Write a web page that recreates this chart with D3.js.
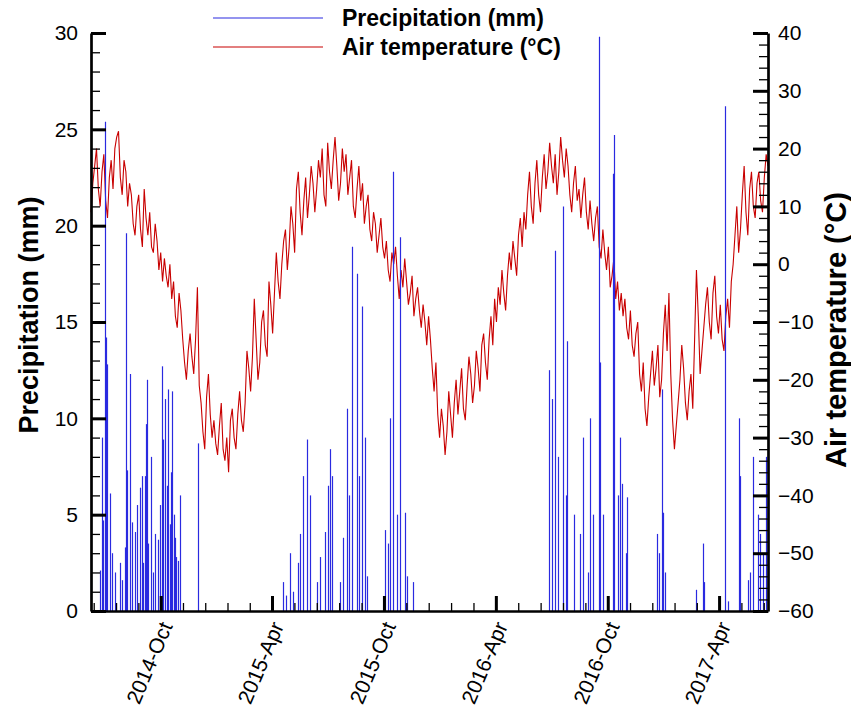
<!DOCTYPE html>
<html>
<head>
<meta charset="utf-8">
<script src="https://cdn.jsdelivr.net/npm/d3@7"></script>
<style>
  html, body { margin: 0; padding: 0; background: #fff; }
  svg { display: block; font-family: "Liberation Sans", Arial, sans-serif; }
</style>
</head>
<body>
<svg id="chart" width="851" height="721"></svg>
<script>
// ---- data -------------------------------------------------------------
const seriesStart = "2014-06-09";
const seriesEnd = "2017-06-20";
const tempStepDays = 3; // one air-temperature reading every 3 days from seriesStart

// Air temperature (°C)
const tempValues = [
  9,14,17,20,13,10,16,19,11,8,
  15,18,13,20,22,23,15,12,18,16,
  10,14,12,7,5,10,12,6,3,13,
  8,5,9,3,2,7,4,-1,2,-3,
  1,-2,-4,0,-6,-3,-9,-11,-5,-8,
  -13,-17,-20,-15,-12,-16,-19,-13,-4,-21,
  -24,-29,-32,-23,-19,-26,-30,-27,-31,-33,
  -28,-24,-32,-34,-30,-36,-27,-25,-30,-32,
  -26,-22,-27,-29,-24,-15,-18,-22,-16,-6,
  -13,-20,-17,-10,-8,-14,-16,-3,-7,-12,
  -5,2,-3,-6,0,4,6,-1,3,10,
  7,2,13,16,9,5,11,15,8,12,
  17,14,9,13,18,15,20,12,10,21,
  16,13,18,22,17,11,14,20,16,19,
  12,15,18,10,8,13,17,11,14,7,
  10,12,6,4,9,7,2,5,8,3,
  1,4,-1,-3,2,0,3,-2,-6,-1,
  -4,1,-3,-7,-5,-2,-9,-6,-4,-8,
  -11,-7,-10,-14,-9,-13,-18,-22,-17,-26,
  -30,-25,-28,-33,-29,-22,-26,-30,-24,-20,
  -26,-22,-18,-25,-27,-21,-16,-19,-24,-21,
  -15,-18,-22,-14,-12,-17,-20,-13,-9,-14,
  -6,-10,-4,-7,-1,-5,-8,-2,2,-1,
  4,1,-2,5,8,3,9,6,12,16,
  10,7,14,18,12,9,15,19,13,16,
  21,17,14,19,12,16,22,18,15,20,
  17,12,9,14,17,11,13,8,12,15,
  9,6,11,7,4,8,10,3,1,6,
  2,-1,3,-4,-2,1,-6,-3,-8,-5,
  -9,-6,-11,-13,-8,-14,-16,-12,-10,-19,
  -22,-17,-25,-28,-23,-19,-15,-21,-18,-14,
  -23,-20,-12,-7,-15,-5,-19,-27,-32,-28,
  -24,-20,-14,-18,-24,-27,-22,-19,-25,-13,
  -1,-9,-19,-15,-11,-7,-4,-10,-13,-5,
  -2,-9,-12,-7,-13,-15,-9,-6,-11,-3,
  0,5,10,2,6,12,17,9,5,13,
  16,10,8,14,16,11,9,15,19,17
];

// Precipitation events: day number counted from seriesStart, and amount (mm)
const precipDay = [
  15,18,20,23,25,26,31,34,39,47,51,56,57,59,64,67,72,75,80,83,85,88,90,92,93,98,101,105,110,113,
  116,118,121,124,126,129,131,133,136,137,139,142,146,175,
  314,319,326,330,339,342,347,353,358,370,375,383,388,391,394,407,412,419,422,427,435,439,443,448,452,
  481,486,489,494,501,506,514,517,527,
  749,754,759,764,771,776,779,789,800,805,812,816,821,830,833,838,854,856,861,865,869,874,877,
  926,929,933,936,939,990,1000,1003,1036,1041,1059,1062,1075,1078,1083,1090,1094,1099,1104
];
const precipMm = [
  2.1,9.0,4.7,25.4,14.2,12.8,6.1,3.0,2.0,2.5,1.6,3.3,19.6,7.3,12.3,4.6,4.1,5.5,6.4,7.0,2.5,7.0,9.7,12.0,3.5,8.0,2.0,4.0,3.7,5.5,
  12.7,8.9,11.0,6.5,11.5,4.5,7.2,11.4,5.0,3.8,2.8,2.6,6.0,8.7,
  1.5,0.8,3.0,1.0,2.5,4.0,7.0,8.9,6.0,1.5,2.8,4.1,6.5,8.4,7.0,1.5,3.8,10.5,6.0,18.9,17.5,7.0,15.8,9.0,1.8,
  4.2,3.5,10.0,22.8,5.0,19.4,5.1,1.8,1.5,
  12.5,11.0,18.7,8.0,21.0,6.0,14.0,5.0,4.0,9.0,2.0,10.0,5.0,29.8,12.9,5.0,22.7,24.7,6.0,9.0,6.6,3.0,5.9,
  4.0,3.0,11.5,5.1,2.0,1.1,3.5,1.5,26.2,0.5,10.0,7.0,1.6,2.0,8.0,5.0,4.0,3.0,8.0
];

// Axis ticks
const xMajorTicks = ["2014-10-01","2015-04-01","2015-10-01","2016-04-01","2016-10-01","2017-04-01"];
const precipTicks = [0,5,10,15,20,25,30];
const tempTicks = [-60,-50,-40,-30,-20,-10,0,10,20,30,40];

// ---- layout -----------------------------------------------------------
const svg = d3.select("#chart");
const plot = { left: 91, right: 768, top: 33, bottom: 611 };
const parse = d3.utcParse("%Y-%m-%d");
const dayMs = 864e5;
const t0 = parse(seriesStart);

const x = d3.scaleUtc().domain([t0, parse(seriesEnd)]).range([plot.left, plot.right]);
const yP = d3.scaleLinear().domain([0, 30]).range([plot.bottom, plot.top]);
const yT = d3.scaleLinear().domain([-60, 40]).range([plot.bottom, plot.top]);

const tempData = tempValues.map((v, i) => ({ date: new Date(+t0 + i * tempStepDays * dayMs), value: v }));
const precipData = precipDay.map((d, i) => ({ date: new Date(+t0 + d * dayMs), value: precipMm[i] }));

// air temperature line
svg.append("path")
  .datum(tempData)
  .attr("fill", "none")
  .attr("stroke", "#c80000")
  .attr("stroke-width", 1.1)
  .attr("stroke-linejoin", "miter")
  .attr("d", d3.line().x(d => x(d.date)).y(d => yT(d.value)));

// precipitation drawn as thin vertical bars
svg.append("g")
  .selectAll("line")
  .data(precipData)
  .join("line")
  .attr("x1", d => Math.round(x(d.date)) + 0.5)
  .attr("x2", d => Math.round(x(d.date)) + 0.5)
  .attr("y1", yP(0))
  .attr("y2", d => yP(d.value))
  .attr("stroke", "#2a2ae0")
  .attr("stroke-width", 1.2);

// ---- axes -------------------------------------------------------------
const majorDates = xMajorTicks.map(parse);
const minorDates = [];
for (let k = 0; k < majorDates.length - 1; k++) {
  const a = +majorDates[k], b = +majorDates[k + 1];
  for (let j = 1; j < 5; j++) minorDates.push(new Date(a + (b - a) * j / 5));
}
const minorStep = (+majorDates[majorDates.length - 1] - +majorDates[0]) / ((majorDates.length - 1) * 5);
for (let t = +majorDates[0] - minorStep; t >= +x.domain()[0]; t -= minorStep) minorDates.push(new Date(t));
for (let t = +majorDates[majorDates.length - 1] + minorStep; t <= +x.domain()[1]; t += minorStep) minorDates.push(new Date(t));

function styleAxis(g, width) {
  g.select(".domain").attr("stroke", "#000").attr("stroke-width", 2.7);
  g.selectAll(".tick line").attr("stroke", "#000").attr("stroke-width", width);
  g.selectAll("text").attr("fill", "#000");
}

// bottom axis
const xMinor = svg.append("g").attr("transform", `translate(0,${plot.bottom})`)
  .call(d3.axisBottom(x).tickValues(minorDates).tickSize(-8).tickSizeOuter(0).tickFormat(""));
xMinor.select(".domain").remove();
xMinor.selectAll(".tick line").attr("stroke", "#000").attr("stroke-width", 1.3);

const xAxis = svg.append("g").attr("transform", `translate(0,${plot.bottom})`)
  .call(d3.axisBottom(x).tickValues(majorDates).tickSize(-15).tickSizeOuter(0)
    .tickFormat(d3.utcFormat("%Y-%b")));
styleAxis(xAxis, 3);
xAxis.selectAll("text")
  .attr("font-size", 21)
  .attr("text-anchor", "end")
  .attr("x", 0).attr("y", 0).attr("dy", "0.35em")
  .attr("transform", "translate(5,12) rotate(-67)");

// left axis (precipitation)
const pMinorTicks = d3.range(0, 31, 1).filter(v => v % 5 !== 0);
const pMinor = svg.append("g").attr("transform", `translate(${plot.left},0)`)
  .call(d3.axisLeft(yP).tickValues(pMinorTicks).tickSize(-9).tickSizeOuter(0).tickFormat(""));
pMinor.select(".domain").remove();
pMinor.selectAll(".tick line").attr("stroke", "#000").attr("stroke-width", 1.3);

const pAxis = svg.append("g").attr("transform", `translate(${plot.left},0)`)
  .call(d3.axisLeft(yP).tickValues(precipTicks).tickSize(-15).tickSizeOuter(0).tickPadding(13));
styleAxis(pAxis, 3);
pAxis.selectAll("text").attr("font-size", 21);

// right axis (temperature)
const tMinorTicks = d3.range(-60, 41, 2).filter(v => v % 10 !== 0);
const tMinor = svg.append("g").attr("transform", `translate(${plot.right},0)`)
  .call(d3.axisRight(yT).tickValues(tMinorTicks).tickSize(-9).tickSizeOuter(0).tickFormat(""));
tMinor.select(".domain").remove();
tMinor.selectAll(".tick line").attr("stroke", "#000").attr("stroke-width", 1.3);

const tAxis = svg.append("g").attr("transform", `translate(${plot.right},0)`)
  .call(d3.axisRight(yT).tickValues(tempTicks).tickSize(-15).tickSizeOuter(0).tickPadding(10));
styleAxis(tAxis, 3);
tAxis.selectAll("text").attr("font-size", 21);

// axis titles
svg.append("text")
  .attr("transform", "translate(38,315) rotate(-90)")
  .attr("text-anchor", "middle")
  .attr("font-size", 27).attr("font-weight", "bold")
  .text("Precipitation (mm)");

svg.append("text")
  .attr("transform", "translate(846,330) rotate(-90)")
  .attr("text-anchor", "middle")
  .attr("font-size", 29).attr("font-weight", "bold")
  .text("Air temperature (°C)");

// legend
const legend = [
  { label: "Precipitation (mm)", color: "#2a2ae0", y: 18 },
  { label: "Air temperature (°C)", color: "#c80000", y: 47 }
];
const lg = svg.append("g");
lg.selectAll("line").data(legend).join("line")
  .attr("x1", 213).attr("x2", 323)
  .attr("y1", d => d.y).attr("y2", d => d.y)
  .attr("stroke", d => d.color).attr("stroke-width", 1.2);
lg.selectAll("text").data(legend).join("text")
  .attr("x", 342).attr("y", d => d.y + 8)
  .attr("font-size", 23).attr("font-weight", "bold")
  .attr("fill", "#000")
  .text(d => d.label);
</script>
</body>
</html>
